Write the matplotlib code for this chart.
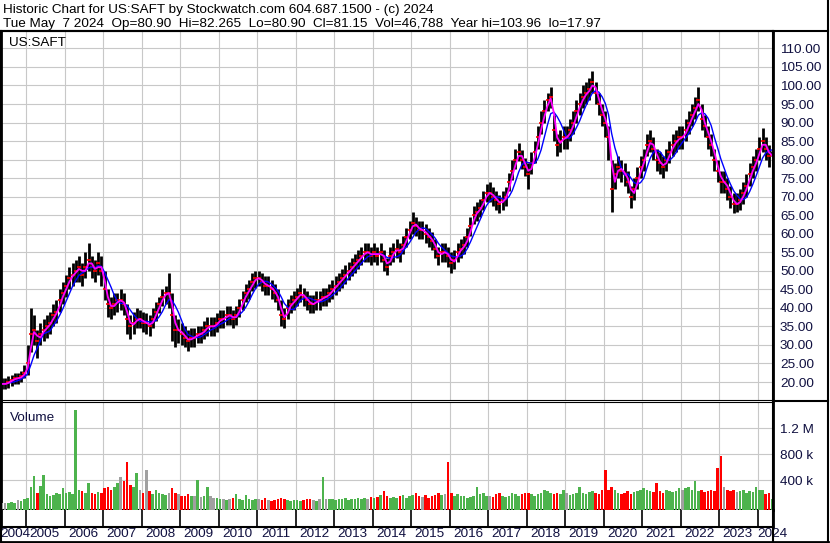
import numpy as np
import pandas as pd
import matplotlib
matplotlib.use('Agg')
import matplotlib.pyplot as plt

plt.rcParams['font.family'] = ['Liberation Sans', 'DejaVu Sans']

###################################################################################################
# Data: monthly bars May 2004 -> May 2024
first_month = '2004-05'
last_month = '2024-05'

close = [19.5, 19.5, 20, 20.5, 21, 21, 21.5, 22.5,                      # 2004
         25, 33, 34, 31, 33, 34, 35, 36, 38, 39, 42, 44,                # 2005
         46, 48, 49, 50, 51, 49, 51, 53, 51, 50, 52, 50,                # 2006
         45, 41, 40, 41, 42, 42, 41, 37, 35, 36, 37, 37,                # 2007
         36, 36, 35, 37, 39, 41, 43, 44, 44, 38, 34, 34,                # 2008
         33, 32, 31, 32, 32, 33, 33, 34, 35, 35, 35, 36,                # 2009
         37, 37, 38, 38, 37, 38, 40, 42, 44, 45, 47, 48,                # 2010
         48, 47, 46, 46, 45, 44, 42, 38, 37, 40, 41, 42,                # 2011
         43, 44, 43, 42, 41, 41, 42, 42, 43, 43, 44, 45,                # 2012
         46, 47, 48, 49, 50, 51, 52, 53, 54, 55, 55, 54,                # 2013
         55, 54, 55, 53, 51, 54, 55, 56, 55, 57, 59, 61,                # 2014
         63, 62, 61, 61, 60, 59, 58, 56, 54, 55, 55, 54,                # 2015
         52, 53, 55, 56, 57, 59, 62, 65, 66, 67, 69, 71,                # 2016
         71, 70, 69, 68, 69, 70, 74, 77, 80, 82, 80, 78,                # 2017
         76, 79, 82, 86, 90, 93, 96, 97, 88, 84, 85, 86,                # 2018
         86, 88, 90, 93, 95, 97, 98, 99, 101, 98, 95, 92,               # 2019
         90, 86, 72, 76, 78, 77, 76, 74, 70, 72, 75, 78,                # 2020
         80, 84, 85, 83, 80, 79, 78, 80, 82, 84, 85, 86,                # 2021
         86, 88, 90, 92, 94, 96, 91, 89, 86, 84, 80, 77,                # 2022
         74, 74, 72, 70, 68, 68, 69, 71, 73, 76, 78, 80,                # 2023
         83, 85, 83, 81, 81.15]                                         # 2024

high = [21, 21, 21.5, 22, 22.5, 22.5, 23, 24.5,
        30, 40, 38, 34, 36, 37, 38, 39, 41, 42, 45, 47,
        49, 51, 52, 53, 54, 52, 55, 57.5, 54, 53, 55, 54,
        50, 45, 43, 44, 44, 45, 44, 41, 38, 39, 40, 39.5,
        39, 38.5, 38, 40, 41.5, 43, 45, 46, 49.5, 44, 38, 37,
        36, 35, 34, 34.5, 34.5, 35, 35, 36.5, 37.5, 37.5, 37.5, 38.5,
        39.5, 39.5, 40.5, 40.5, 39.5, 40.5, 42.5, 44.5, 46.5, 47.5, 49.5, 50,
        50, 49.5, 48.5, 48.5, 47.5, 46.5, 45, 42, 40, 42.5, 43.5, 44.5,
        45.5, 46.5, 45.5, 44.5, 43.5, 43.5, 44.5, 44.5, 45.5, 45.5, 46.5, 47.5,
        48.5, 49.5, 50.5, 51.5, 52.5, 53.5, 54.5, 55.5, 56.5, 57.5, 57.5, 56.5,
        57.5, 56.5, 57.5, 55.5, 53.5, 56.5, 57.5, 58.5, 57.5, 59.5, 61.5, 63.5,
        66, 64.5, 63.5, 63.5, 62.5, 61.5, 60.5, 58.5, 56.5, 57.5, 57.5, 56.5,
        55, 55.5, 57.5, 58.5, 59.5, 61.5, 64.5, 67.5, 68.5, 69.5, 71.5, 73.5,
        74, 72.5, 71.5, 70.5, 71.5, 72.5, 76.5, 80, 83, 84.5, 82.5, 80.5,
        79, 82, 85, 89, 93, 96, 98, 99.5, 92, 87, 88, 89,
        89, 91, 93, 96, 98, 100, 101, 102, 104, 101, 98, 95,
        93, 89, 80, 79, 81, 80, 79, 77, 73, 75, 78, 81,
        83, 87, 88, 86, 83, 82, 81, 83, 85, 87, 88, 89,
        89, 91, 93, 95, 97, 99.5, 95, 92, 89, 87, 83, 80,
        77, 77, 75, 73, 71, 71, 72, 74, 76, 79, 81, 83,
        86, 88.5, 86, 84, 82.3]

low = [18, 18.2, 18.5, 19, 19.5, 19.5, 20, 21,
       22, 28, 30, 26.5, 30, 31, 32, 33, 35, 36, 39, 41,
       43, 45, 46, 47, 47, 46, 48, 50, 48, 47, 49, 46,
       42, 37.5, 37, 38, 39, 39.5, 38, 33, 31.5, 33, 34.5, 34.5,
       33.5, 33, 32.5, 34.5, 36.5, 38.5, 40.5, 41, 40, 31, 29.5, 30.5,
       30, 29.5, 28.5, 29.5, 29.5, 30.5, 30.5, 31.5, 32.5, 32.5, 32.5, 33.5,
       34.5, 34.5, 35.5, 35.5, 34.5, 35.5, 37.5, 39.5, 41.5, 42.5, 44.5, 45.5,
       46, 44.5, 43.5, 43.5, 42.5, 41.5, 39.5, 35, 34.5, 37, 38.5, 39.5,
       40.5, 41.5, 40.5, 39.5, 38.5, 38.5, 39.5, 39.5, 40.5, 40.5, 41.5, 42.5,
       43.5, 44.5, 45.5, 46.5, 47.5, 48.5, 49.5, 50.5, 51.5, 52.5, 52.5, 51.5,
       52.5, 51.5, 52.5, 50, 49, 51.5, 52.5, 53.5, 52.5, 54.5, 56.5, 58.5,
       60, 59.5, 58.5, 58.5, 57.5, 56.5, 55.5, 53.5, 51.5, 52.5, 52.5, 51,
       49.5, 50.5, 52.5, 53.5, 54.5, 56.5, 59.5, 62.5, 63.5, 64.5, 66.5, 68.5,
       68.5, 67.5, 66.5, 65.5, 66.5, 67.5, 71.5, 74.5, 77.5, 79.5, 77.5, 75.5,
       72, 76, 79, 83, 87, 90, 93, 94, 85, 81, 82, 83,
       83, 85, 87, 90, 92, 94, 95, 96, 98, 95, 92, 89,
       86, 80, 66, 72, 75, 74, 73, 71, 67, 69, 72, 75,
       77, 81, 82, 80, 77, 76, 75, 77, 79, 81, 82, 83,
       83, 85, 87, 89, 91, 93, 88, 86, 83, 81, 77, 74,
       71, 71, 69, 67, 65.5, 66, 66.5, 68, 70, 73, 75, 77,
       80, 82, 80, 78, 80.9]

# volume in thousands of shares
volume_k = [40, 50, 45, 60, 50, 90, 70, 100,
            130, 300, 460, 200, 310, 480, 180, 150, 170, 200, 180, 280,
            200, 220, 180, 1480, 250, 230, 200, 350, 200, 180, 220, 200,
            280, 300, 250, 300, 350, 450, 380, 680, 320, 300, 510, 250,
            200, 555, 230, 180, 250, 200, 180, 170, 200, 270, 200, 180,
            150, 150, 180, 160, 150, 400, 140, 150, 300, 160, 130, 120,
            100, 110, 90, 100, 120, 185, 100, 90, 170, 100, 90, 110,
            100, 90, 120, 90, 80, 90, 100, 130, 110, 90, 80, 90,
            90, 80, 90, 100, 110, 90, 80, 100, 450, 100, 110, 100,
            90, 110, 100, 120, 90, 110, 100, 130, 110, 120, 100, 140,
            130, 140, 170, 230, 160, 130, 140, 120, 150, 170, 130, 150,
            170, 200, 150, 140, 170, 130, 150, 170, 200, 170, 190, 680,
            200, 160, 180, 160, 150, 130, 140, 150, 300, 180, 200, 160,
            160, 140, 180, 200, 160, 140, 160, 200, 180, 160, 180, 200,
            200, 180, 160, 180, 200, 250, 230, 200, 180, 200, 190, 240,
            200, 170, 180, 200, 300, 200, 180, 210, 230, 200, 190, 250,
            560, 250, 300, 250, 200, 180, 200, 230, 190, 210, 230, 250,
            270, 250, 230, 210, 350, 230, 200, 250, 230, 210, 230, 270,
            250, 280, 300, 250, 390, 230, 250, 210, 230, 250, 230, 580,
            770, 300, 250, 230, 250, 210, 230, 250, 200, 230, 210, 290,
            240, 250, 180, 200, 100]

price_ticks = list(range(20, 115, 5))
vol_ticks = [400000, 800000, 1200000]
vol_tick_labels = ['400 k', '800 k', '1.2 M']
years = list(range(2004, 2025))

title_line1 = "Historic Chart for US:SAFT by Stockwatch.com 604.687.1500 - (c) 2024"
title_line2 = "Tue May  7 2024  Op=80.90  Hi=82.265  Lo=80.90  Cl=81.15  Vol=46,788  Year hi=103.96  lo=17.97"
symbol = "US:SAFT"

###################################################################################################
months = pd.period_range(first_month, last_month, freq='M')
t = np.array([p.year + (p.month - 0.5) / 12 for p in months])
close = np.asarray(close); high = np.asarray(high); low = np.asarray(low)
vol = np.asarray(volume_k) * 1000.0

ma_fast = pd.Series(close).rolling(2, min_periods=1).mean()
ma_slow = pd.Series(close).rolling(5, min_periods=1).mean()

# up/down colouring of the volume bars
chg = np.diff(np.r_[close[0], close])
vcol = np.where(chg > 0, '#4db34d', np.where(chg < 0, '#ff0000', '#a0a0a0'))

W, H = 830, 543
def box(x0, y0, x1, y1):
    return [x0 / W, 1 - y1 / H, (x1 - x0) / W, (y1 - y0) / H]

xmin, xmax = 2004.351, 2024.397
px_per_year = 38.51
grid_c = '#c8c8c8'
lab_c = '#101040'
fs = 9.7

fig = plt.figure(figsize=(W / 100, H / 100), dpi=100)

# price panel
ax = fig.add_axes(box(1, 31, 773, 400))
ax.vlines(t, low, high, color='black', lw=2.0, zorder=3)
ax.plot(t, close, ls='none', marker='_', ms=3, mew=1.2, color='red', zorder=4)
ax.plot(t, ma_slow, color='#0000ff', lw=1.0, zorder=5)
ax.plot(t, ma_fast, color='#ff00ff', lw=1.3, zorder=6)
ax.set_xlim(xmin, xmax)
ax.set_ylim(15.15, 114.7)
ax.set_yticks(price_ticks)
ax.set_yticklabels(['%.2f' % v for v in price_ticks])
ax.yaxis.tick_right()
ax.tick_params(axis='y', length=0, pad=5, labelsize=fs, labelcolor=lab_c)
ax.set_xticks(years[1:])
ax.tick_params(axis='x', length=0, labelbottom=False)
ax.grid(True, color=grid_c, lw=0.8)
ax.set_axisbelow(True)
ax.spines['top'].set_linewidth(1.5)
ax.spines['left'].set_linewidth(2)
ax.spines['right'].set_linewidth(2)
ax.spines['bottom'].set_linewidth(0.8)

# volume panel
vfloor = -63000
axv = fig.add_axes(box(1, 402, 773, 510))
axv.bar(t, vol - vfloor, bottom=vfloor, width=0.8 / 12, color=vcol, lw=0, zorder=3)
axv.set_xlim(xmin, xmax)
axv.set_ylim(vfloor, 1608000)
axv.set_yticks(vol_ticks)
axv.set_yticklabels(vol_tick_labels)
axv.yaxis.tick_right()
axv.tick_params(axis='y', length=0, pad=5, labelsize=fs, labelcolor=lab_c)
axv.set_xticks(years[1:])
axv.tick_params(axis='x', length=0, labelbottom=False)
axv.grid(True, color=grid_c, lw=0.8)
axv.set_axisbelow(True)
axv.spines['top'].set_linewidth(0.8)
axv.spines['bottom'].set_linewidth(1.5)
axv.spines['left'].set_linewidth(2)
axv.spines['right'].set_linewidth(2)
axv.text(0.011, 0.855, 'Volume', transform=axv.transAxes, fontsize=fs, color=lab_c, va='center')

# year tick row + labels (centred in the visible part of each year)
axt = fig.add_axes(box(1, 510, 773, 527))
axt.set_xlim(xmin, xmax)
axt.set_ylim(0, 1)
axt.vlines(years[1:], 0, 1, color='black', lw=1.2)
axt.set_xticks([]); axt.set_yticks([])
axt.spines['top'].set_visible(False)
axt.spines['bottom'].set_linewidth(1.5)
axt.spines['left'].set_linewidth(2)
axt.spines['right'].set_linewidth(2)
for y in years:
    if y < xmin:
        xpos, ha = xmin - 0.8 / px_per_year, 'left'
    elif y + 1 > xmax:
        xpos, ha = y, 'left'
    else:
        xpos, ha = y + 0.48, 'center'
    axt.text(xpos, -0.41, str(y), transform=axt.get_xaxis_transform(),
             ha=ha, va='center', fontsize=fs, color=lab_c, clip_on=False)

# frame lines and header text, drawn in pixel space
ov = fig.add_axes([0, 0, 1, 1])
ov.set_xlim(0, W); ov.set_ylim(H, 0); ov.axis('off')
ov.plot([0, 828], [31, 31], color='black', lw=1.5)
ov.plot([828, 828], [0, 543], color='black', lw=1.5)
ov.plot([773, 828], [401, 401], color='black', lw=1.5)
ov.plot([773, 773], [31, 543], color='black', lw=1.5)
ov.plot([0, 828], [542, 542], color='black', lw=2)
ov.plot([0.7, 0.7], [31, 543], color='black', lw=1.5)
ov.text(3, 12.7, title_line1, fontsize=fs, color='black', va='baseline')
ov.text(3, 26.7, title_line2, fontsize=fs, color='black', va='baseline')
ov.text(9, 46, symbol, fontsize=fs, color='black', va='baseline')

fig.savefig('out.png', dpi=100)
